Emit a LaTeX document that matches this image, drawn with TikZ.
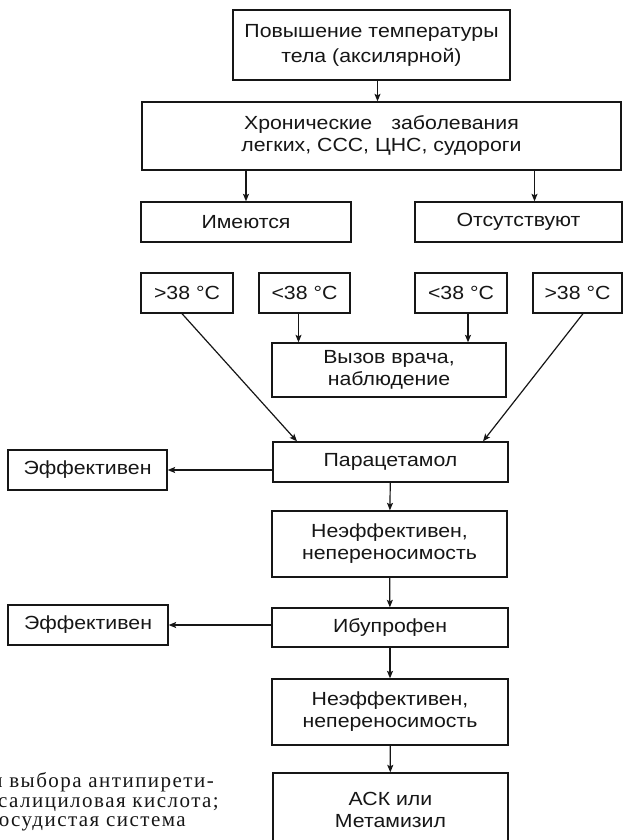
\documentclass[tikz,border=0pt]{standalone}
\usepackage{fontspec}
\setmainfont{Liberation Sans}[FakeStretch=1.12]
\newfontfamily\capfont{Liberation Serif}[LetterSpace=7]
\usepackage{tikz}
\usetikzlibrary{arrows.meta,positioning,calc}
\definecolor{cInk}{HTML}{161616}
\tikzset{
  >={Stealth[length=7.5pt,width=6pt,inset=1.5pt]},
  box/.style ={draw=cInk,line width=1.3pt,fill=white,align=center,inner sep=0pt,
               font=\fontsize{19}{22}\selectfont,text=cInk},
  ar/.style  ={->,line width=1.2pt,cInk},
  captext/.style ={inner sep=0pt,text=cInk,anchor=base east,
               font=\capfont\fontsize{21}{21}\selectfont},
}

\begin{document}
\begin{tikzpicture}[x=1pt,y=-1pt]
\useasboundingbox (0,0) rectangle (624,840);
\node[box,minimum width=277pt,minimum height=70pt,font=\fontsize{19}{25}\selectfont] (top) at (371.5,45)
  {Повышение температуры\\тела (аксилярной)};
\node[box,minimum width=479pt,minimum height=68pt] (chron) at (381.5,136)
  {Хронические\hspace{0.7em} заболевания\\легких, ССС, ЦНС, судороги};
\node[box,minimum width=210pt,minimum height=40pt] (yes) at (246,222) {Имеются};
\node[box,minimum width=207pt,minimum height=40pt] (no)  at (518.5,222) {Отсутствуют};
\node[box,minimum width=92pt,minimum height=40pt] (t1) at (187,293) {>38 °C};
\node[box,minimum width=91pt,minimum height=40pt] (t2) at (304.5,293) {<38 °C};
\node[box,minimum width=92pt,minimum height=40pt] (t3) at (461,293) {<38 °C};
\node[box,minimum width=89pt,minimum height=40pt] (t4) at (577.5,293) {>38 °C};
\node[box,minimum width=234pt,minimum height=54pt] (call) at (389,370) {Вызов врача,\\наблюдение};
\node[box,minimum width=235pt,minimum height=40pt] (para) at (390.5,462) {Парацетамол};
\node[box,minimum width=159pt,minimum height=40pt] (eff1) at (87.5,470) {Эффективен};
\node[box,minimum width=235pt,minimum height=66pt] (ne1) at (389.5,544) {Неэффективен,\\непереносимость};
\node[box,minimum width=236pt,minimum height=39pt] (ibu) at (390,627.5) {Ибупрофен};
\node[box,minimum width=160pt,minimum height=40pt] (eff2) at (88,625) {Эффективен};
\node[box,minimum width=236pt,minimum height=66pt] (ne2) at (390,712) {Неэффективен,\\непереносимость};
\node[box,minimum width=235pt,minimum height=74pt] (ask) at (390.5,810) {АСК или\\Метамизил};

\node[captext] (c1) at (214,787) {и выбора антипирети-};
\node[captext] (c2) at (219,807) {салициловая кислота;};
\node[captext] (c3) at (186,826) {осудистая система};

\draw[ar] ([xshift=6pt]top.south) -- ([xshift=6pt]top.south |- chron.north);
\draw[ar] (yes.north |- chron.south) -- (yes.north);
\draw[ar] ([xshift=16pt]no.north |- chron.south) -- ([xshift=16pt]no.north);
\draw[ar] ([xshift=-6pt]t2.south) -- ([xshift=-6pt]t2.south |- call.north);
\draw[ar] ([xshift=7pt]t3.south) -- ([xshift=7pt]t3.south |- call.north);
\draw[ar] ([xshift=-5pt]t1.south) -- ([xshift=-93.5pt]para.north);
\draw[ar] ([xshift=5.5pt]t4.south) -- ([xshift=92.5pt]para.north);
\draw[ar] (eff1.east -| para.west) -- (eff1.east);
\draw[ar] (para) -- (ne1);
\draw[ar] (ne1) -- (ibu);
\draw[ar] (eff2.east -| ibu.west) -- (eff2.east);
\draw[ar] (ibu) -- (ne2);
\draw[ar] (ne2) -- (ask);
\end{tikzpicture}
\end{document}
